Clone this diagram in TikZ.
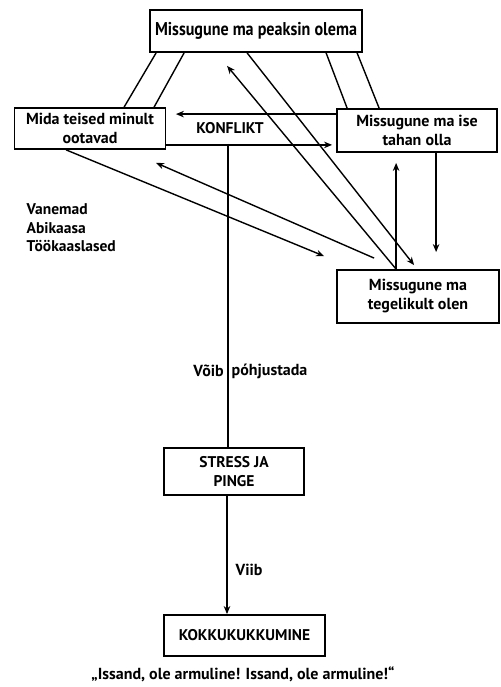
\documentclass[tikz,border=0pt]{standalone}
\usepackage{fontspec}
\setmainfont{PT Sans}
\usetikzlibrary{arrows.meta}
\begin{document}
\begin{tikzpicture}[x=1pt, y=-1pt, line width=1.4pt,
    >={Stealth[length=8pt, width=6.5pt, inset=2.5pt]}]
    \tikzstyle{box}=[draw, line width=1.8pt, fill=white, align=center,
                     inner sep=2pt, font=\bfseries\fontsize{16}{19}\selectfont]
    \tikzstyle{lbl}=[inner sep=0pt, font=\bfseries\fontsize{16}{18.5}\selectfont]
    \useasboundingbox (0,0) rectangle (500,687);

    \node[box, minimum width=212pt, minimum height=42pt,
          font=\bfseries\fontsize{18.5}{19}\selectfont] (top) at (256,31)
          {\scalebox{0.87}[1]{Missugune ma peaksin olema}};
    \node[box, minimum width=151pt, minimum height=41pt] (ootus) at (90,128.5)
          {Mida teised minult\\ootavad};
    \node[box, minimum width=160pt, minimum height=43pt] (tahe) at (417,130.5)
          {Missugune ma ise\\tahan olla};
    \node[box, minimum width=162pt, minimum height=53pt] (tegelik) at (418,296.5)
          {Missugune ma\\tegelikult olen};
    \node[box, minimum width=140pt, minimum height=47pt,
          font=\bfseries\fontsize{15.5}{19}\selectfont] (stress) at (234,471.5)
          {STRESS JA\\PINGE};
    \node[box, minimum width=161pt, minimum height=41pt,
          font=\bfseries\fontsize{15.5}{19}\selectfont] (kokku) at (244.5,635.5)
          {KOKKUKUKKUMINE};

    \node[lbl, font=\bfseries\fontsize{15.5}{18.5}\selectfont] (konflikt) at (230,128) {KONFLIKT};
    \node[lbl, align=left, anchor=west, font=\bfseries\fontsize{15.5}{18.5}\selectfont]
          (teised) at (26,228) {Vanemad\\Abikaasa\\Töökaaslased};
    \node[lbl, anchor=east] (voib) at (224.5,371) {Võib};
    \node[lbl, anchor=west] (pohj) at (231,371) {póhjustada};
    \node[lbl, anchor=west] (viib) at (235,570) {Viib};
    \node[lbl] (palve) at (243,674) {„Issand, ole armuline! Issand, ole armuline!“};

    % double lines to the top box
    \draw ([xshift=7pt]top.south west) -- ([xshift=110.5pt]ootus.north west);
    \draw ([xshift=35pt]top.south west) -- ([xshift=140.5pt]ootus.north west);
    \draw ([xshift=177pt]top.south west) -- ([xshift=11pt]tahe.north west);
    \draw ([xshift=208pt]top.south west) -- ([xshift=43pt]tahe.north west);

    % konflikt
    \draw[->] ([yshift=-6pt]tahe.north west) -- ([xshift=9.5pt, yshift=-7pt]ootus.north east);
    \draw[->] ([yshift=5pt]ootus.south east) -- ([xshift=-4pt, yshift=8pt]tahe.south west);

    % cross arrows
    \draw[->] ([xshift=98pt]top.south west) -- ([xshift=78pt, yshift=4pt]tegelik.north west);
    \draw[->] ([xshift=60pt]tegelik.north west) -- ([xshift=78pt, yshift=-13pt]top.south west);
    \draw[->] ([xshift=60pt]tegelik.north west) -- ([xshift=60pt, yshift=-10pt]tahe.south west);
    \draw[->] ([xshift=100pt]tahe.south west) -- ([xshift=100pt, yshift=17pt]tegelik.north west);
    \draw[->] ([xshift=52.5pt]ootus.south west) -- ([xshift=-12pt, yshift=13pt]tegelik.north west);
    \draw[->] ([xshift=38pt, yshift=11pt]tegelik.north west) -- ([xshift=142.5pt, yshift=-13pt]ootus.south west);

    % down to the collapse
    \coordinate (haru) at (228,144);
    \draw (haru) -- (haru |- stress.north);
    \draw[->] (stress.south -| 227,0) -- (kokku.north -| 227,0);
\end{tikzpicture}
\end{document}
